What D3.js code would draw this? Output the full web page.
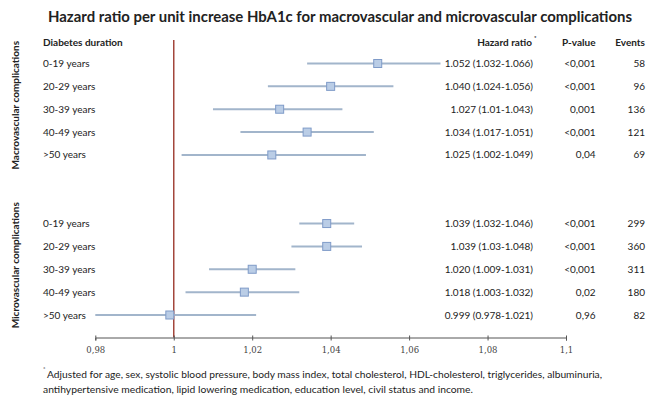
<!DOCTYPE html>
<html><head><meta charset="utf-8">
<script src="https://cdn.jsdelivr.net/npm/d3@7"></script>
<style>body{margin:0;background:#fff}svg{display:block}</style>
</head><body><svg id="c" width="647" height="396"></svg>
<script>
const durations = ["0-19 years","20-29 years","30-39 years","40-49 years",">50 years"];
const groups = ["Macrovascular complications","Microvascular complications"];
// Hazard ratios and confidence limits as drawn
const macroHR = [1.052,1.040,1.027,1.034,1.025];
const macroLo = [1.034,1.024,1.010,1.017,1.002];
const macroHi = [1.068,1.056,1.043,1.051,1.049];
const microHR = [1.039,1.039,1.020,1.018,0.999];
const microLo = [1.032,1.030,1.009,1.003,0.978];
const microHi = [1.046,1.048,1.031,1.032,1.021];
const macroText = ["1.052 (1.032-1.066)","1.040 (1.024-1.056)","1.027 (1.01-1.043)","1.034 (1.017-1.051)","1.025 (1.002-1.049)"];
const microText = ["1.039 (1.032-1.046)","1.039 (1.03-1.048)","1.020 (1.009-1.031)","1.018 (1.003-1.032)","0.999 (0.978-1.021)"];
const macroP = ["<0,001","<0,001","0,001","<0,001","0,04"];
const microP = ["<0,001","<0,001","<0,001","0,02","0,96"];
const macroEvents = [58,96,136,121,69];
const microEvents = [299,360,311,180,82];
const xTicks = [0.98,1,1.02,1.04,1.06,1.08,1.1];
const title = "Hazard ratio per unit increase HbA1c for macrovascular and microvascular complications";
const footnote = ["Adjusted for age, sex, systolic blood pressure, body mass index, total cholesterol, HDL-cholesterol, triglycerides, albuminuria,",
                  "antihypertensive medication, lipid lowering medication, education level, civil status and income."];

const rows = [];
durations.forEach((d,i)=>rows.push({idx:i,label:d,hr:macroHR[i],lo:macroLo[i],hi:macroHi[i],txt:macroText[i],p:macroP[i],ev:macroEvents[i]}));
durations.forEach((d,i)=>rows.push({idx:i+7,label:d,hr:microHR[i],lo:microLo[i],hi:microHi[i],txt:microText[i],p:microP[i],ev:microEvents[i]}));

const svg = d3.select("#c");
const font = "Lato, 'Open Sans', sans-serif";
const x = d3.scaleLinear().domain([0.98,1.1]).range([95.3,566]).clamp(true);
const y = d3.scaleLinear().domain([0,11]).range([63.5,315]);

// title
svg.append("text").attr("x",48).attr("y",22).attr("font-family",font).attr("font-weight","bold")
  .attr("font-size",14.5).attr("fill","#222").attr("textLength",584).attr("lengthAdjust","spacingAndGlyphs").text(title);

// headers
const hdr = svg.append("g").attr("font-family",font).attr("font-size",10).attr("font-weight","bold").attr("fill","#222");
hdr.append("text").attr("x",43).attr("y",46).text("Diabetes duration");
hdr.append("text").attr("x",532).attr("y",46).attr("text-anchor","end").text("Hazard ratio");
hdr.append("text").attr("x",534).attr("y",40).attr("font-size",6).text("*");
hdr.append("text").attr("x",595.5).attr("y",46).attr("text-anchor","end").text("P-value");
hdr.append("text").attr("x",645).attr("y",46).attr("text-anchor","end").text("Events");

// group labels
[[0,4],[7,11]].forEach((r,i)=>{
  const cy = (y(r[0])+y(r[1]))/2 - 4;
  svg.append("text").attr("transform",`translate(19,${cy}) rotate(-90)`).attr("text-anchor","middle")
    .attr("font-family",font).attr("font-weight","bold").attr("font-size",10).attr("fill","#222").text(groups[i]);
});

// reference line
svg.append("line").attr("x1",x(1)).attr("x2",x(1)).attr("y1",40).attr("y2",337.5)
  .attr("stroke","#a3473c").attr("stroke-width",1.5);

// CI lines & squares
const g = svg.append("g");
g.selectAll("line.ci").data(rows).join("line").attr("class","ci")
  .attr("x1",d=>x(d.lo)).attr("x2",d=>x(d.hi)).attr("y1",d=>y(d.idx)).attr("y2",d=>y(d.idx))
  .attr("stroke","#a2b5cb").attr("stroke-width",2);
g.selectAll("rect").data(rows).join("rect")
  .attr("x",d=>x(d.hr)-4).attr("y",d=>y(d.idx)-4).attr("width",8).attr("height",8)
  .attr("fill","#bacde6").attr("stroke","#7f9bc8").attr("stroke-width",1);

// table text
const t = svg.append("g").attr("font-family",font).attr("font-size",10).attr("fill","#222");
t.selectAll("text.lab").data(rows).join("text").attr("class","lab").attr("x",43).attr("y",d=>y(d.idx)+3.5).text(d=>d.label);
t.selectAll("text.hr").data(rows).join("text").attr("class","hr").attr("x",533).attr("y",d=>y(d.idx)+3.5).attr("text-anchor","end").text(d=>d.txt);
t.selectAll("text.p").data(rows).join("text").attr("class","p").attr("x",595.5).attr("y",d=>y(d.idx)+3.5).attr("text-anchor","end").text(d=>d.p);
t.selectAll("text.ev").data(rows).join("text").attr("class","ev").attr("x",645).attr("y",d=>y(d.idx)+3.5).attr("text-anchor","end").text(d=>d.ev);

// axis
const ax = svg.append("g").attr("transform","translate(0,337.5)")
  .call(d3.axisBottom(x).tickValues(xTicks).tickSize(3).tickPadding(6)
        .tickFormat(d=>String(d).replace(".",",")));
ax.select(".domain").attr("stroke","#555");
ax.selectAll(".tick line").attr("stroke","#555").attr("y1",-2);
ax.selectAll(".tick text").attr("font-family","'DejaVu Serif', serif").attr("font-size",8.5).attr("fill","#444");

// footnote
const fn = svg.append("g").attr("font-family",font).attr("font-size",10).attr("fill","#222");
fn.append("text").attr("x",43).attr("y",371).attr("font-size",6).text("*");
fn.append("text").attr("x",47).attr("y",378).attr("textLength",555).attr("lengthAdjust","spacingAndGlyphs").text(footnote[0]);
fn.append("text").attr("x",43).attr("y",393).attr("textLength",430).attr("lengthAdjust","spacingAndGlyphs").text(footnote[1]);
</script></body></html>
